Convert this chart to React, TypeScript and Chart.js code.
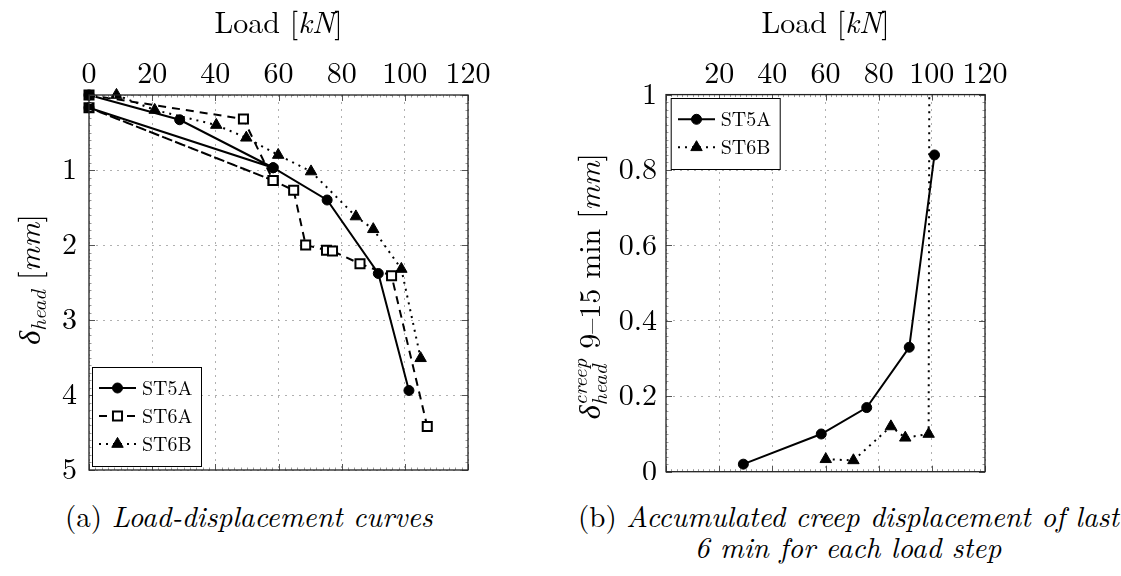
import React, { useEffect, useRef } from "react";
import { Chart, registerables } from "chart.js";

Chart.register(...registerables);

const SERIF = '"Latin Modern Roman", "Liberation Serif", serif';
const TICK_SIZE = 30;
const SUB_SIZE = 21;
const LEGEND_SIZE = 20;

// (a) Load-displacement curves: load [kN] against head displacement [mm]
const st5aLoad = [0, 28.7, 58.3, 0, 58.3, 75.4, 91.6, 101.3];
const st5aDisp = [0, 0.33, 0.97, 0.17, 0.97, 1.4, 2.38, 3.94];
const st6aLoad = [0, 48.9, 58.3, 0, 58.3, 64.8, 68.6, 75.2, 77.1, 85.8, 95.8, 107.1];
const st6aDisp = [0, 0.32, 1.14, 0.17, 1.14, 1.27, 2.0, 2.07, 2.08, 2.25, 2.41, 4.42];
const st6bLoad = [8.7, 20.8, 40.3, 49.8, 59.9, 70.3, 84.5, 90.0, 98.9, 105.0];
const st6bDisp = [0, 0.2, 0.4, 0.57, 0.8, 1.02, 1.62, 1.79, 2.32, 3.51];

// (b) Creep displacement accumulated between 9 and 15 min of each load step
const creepLoad5A = [29.1, 58.4, 75.5, 91.5, 101.0];
const creep5A = [0.02, 0.1, 0.17, 0.33, 0.84];
const creepLoad6B = [60.1, 70.5, 84.6, 90.0, 98.8, 99.3];
const creep6B = [0.033, 0.03, 0.12, 0.09, 0.1, 2.0];

// Axis ranges
const loadRange = { min: 0, max: 120, step: 20 };
const dispRange = { min: 0, max: 5, step: 1 };
const creepRange = { min: 0, max: 1, step: 0.2 };

type MarkStyle = {
  label: string;
  dash: number[];
  point: "circle" | "rect" | "triangle";
  radius: number;
  fill: string;
};

const S5A: MarkStyle = { label: "ST5A", dash: [], point: "circle", radius: 5, fill: "#000" };
const S6A: MarkStyle = { label: "ST6A", dash: [8, 6], point: "rect", radius: 6.4, fill: "#fff" };
const S6B: MarkStyle = { label: "ST6B", dash: [2, 5], point: "triangle", radius: 6.6, fill: "#000" };

const pts = (xs: number[], ys: number[]) => xs.map((x, i) => ({ x, y: ys[i] }));

function dataset(style: MarkStyle, data: { x: number; y: number }[], clip: any = false) {
  return {
    label: style.label,
    data,
    showLine: true,
    borderColor: "#000",
    borderWidth: 2,
    borderDash: style.dash,
    tension: 0,
    pointStyle: style.point,
    pointRadius: style.radius,
    pointBackgroundColor: style.fill,
    pointBorderColor: "#000",
    pointBorderWidth: style.fill === "#fff" ? 2 : 1,
    clip,
  };
}

type Seg = { t: string; italic?: boolean; size?: number; dy?: number; sup?: string; supDy?: number };

const fontOf = (italic: boolean | undefined, size: number) =>
  `${italic ? "italic " : ""}${size}px ${SERIF}`;

function drawRich(ctx: CanvasRenderingContext2D, segs: Seg[], x: number, y: number, base: number) {
  const widths = segs.map((s) => {
    ctx.font = fontOf(s.italic, s.size ?? base);
    let w = ctx.measureText(s.t).width;
    if (s.sup) w = Math.max(w, ctx.measureText(s.sup).width);
    return w;
  });
  const total = widths.reduce((a, b) => a + b, 0);
  let cx = x - total / 2;
  ctx.textAlign = "left";
  ctx.textBaseline = "alphabetic";
  ctx.fillStyle = "#000";
  segs.forEach((s, i) => {
    ctx.font = fontOf(s.italic, s.size ?? base);
    ctx.fillText(s.t, cx, y + (s.dy ?? 0));
    if (s.sup) ctx.fillText(s.sup, cx, y + (s.supDy ?? 0));
    cx += widths[i];
  });
}

function drawMarker(ctx: CanvasRenderingContext2D, st: MarkStyle, x: number, y: number) {
  ctx.save();
  ctx.setLineDash([]);
  ctx.fillStyle = st.fill;
  ctx.strokeStyle = "#000";
  ctx.lineWidth = st.fill === "#fff" ? 2 : 1;
  ctx.beginPath();
  if (st.point === "circle") {
    ctx.arc(x, y, st.radius, 0, Math.PI * 2);
  } else if (st.point === "rect") {
    const h = st.radius * Math.SQRT1_2;
    ctx.rect(x - h, y - h, 2 * h, 2 * h);
  } else {
    const r = st.radius;
    ctx.moveTo(x, y - r);
    ctx.lineTo(x + r * Math.sin((2 * Math.PI) / 3), y - r * Math.cos((2 * Math.PI) / 3));
    ctx.lineTo(x + r * Math.sin((4 * Math.PI) / 3), y - r * Math.cos((4 * Math.PI) / 3));
    ctx.closePath();
  }
  ctx.fill();
  ctx.stroke();
  ctx.restore();
}

type LegendSpec = {
  box: [number, number, number, number];
  rows: number[];
  line: [number, number];
  textX: number;
  entries: MarkStyle[];
};

function drawLegend(ctx: CanvasRenderingContext2D, lg: LegendSpec) {
  const [x, y, w, h] = lg.box;
  ctx.save();
  ctx.fillStyle = "#fff";
  ctx.fillRect(x, y, w, h);
  ctx.strokeStyle = "#000";
  ctx.lineWidth = 1;
  ctx.strokeRect(x + 0.5, y + 0.5, w, h);
  lg.entries.forEach((st, i) => {
    const ry = lg.rows[i];
    ctx.save();
    ctx.strokeStyle = "#000";
    ctx.lineWidth = 2;
    ctx.setLineDash(st.dash);
    ctx.beginPath();
    ctx.moveTo(lg.line[0], ry);
    ctx.lineTo(lg.line[1], ry);
    ctx.stroke();
    ctx.restore();
    drawMarker(ctx, st, (lg.line[0] + lg.line[1]) / 2, ry);
    ctx.fillStyle = "#000";
    ctx.font = fontOf(false, LEGEND_SIZE);
    ctx.textAlign = "left";
    ctx.textBaseline = "alphabetic";
    ctx.fillText(st.label, lg.textX, ry + 7);
  });
  ctx.restore();
}

function drawFrame(chart: any, xStep: number, yStep: number) {
  const { ctx, chartArea: a } = chart;
  const xs = chart.scales.x;
  const ys = chart.scales.y;
  ctx.save();
  ctx.setLineDash([]);
  const minorDiv = 10;
  ctx.strokeStyle = "#9a9a9a";
  ctx.lineWidth = 1;
  ctx.beginPath();
  for (let v = xs.min; v <= xs.max + 1e-9; v += xStep / minorDiv) {
    const p = Math.round(xs.getPixelForValue(v)) + 0.5;
    ctx.moveTo(p, a.top);
    ctx.lineTo(p, a.top + 2.5);
    ctx.moveTo(p, a.bottom);
    ctx.lineTo(p, a.bottom - 2.5);
  }
  for (let v = ys.min; v <= ys.max + 1e-9; v += yStep / minorDiv) {
    const p = Math.round(ys.getPixelForValue(v)) + 0.5;
    ctx.moveTo(a.left, p);
    ctx.lineTo(a.left + 2.5, p);
    ctx.moveTo(a.right, p);
    ctx.lineTo(a.right - 2.5, p);
  }
  ctx.stroke();
  ctx.strokeStyle = "#555";
  ctx.beginPath();
  for (let v = xs.min; v <= xs.max + 1e-9; v += xStep) {
    const p = Math.round(xs.getPixelForValue(v)) + 0.5;
    ctx.moveTo(p, a.top);
    ctx.lineTo(p, a.top + 6);
    ctx.moveTo(p, a.bottom);
    ctx.lineTo(p, a.bottom - 6);
  }
  for (let v = ys.min; v <= ys.max + 1e-9; v += yStep) {
    const p = Math.round(ys.getPixelForValue(v)) + 0.5;
    ctx.moveTo(a.left, p);
    ctx.lineTo(a.left + 6, p);
    ctx.moveTo(a.right, p);
    ctx.lineTo(a.right - 6, p);
  }
  ctx.stroke();
  ctx.strokeStyle = "#222";
  ctx.lineWidth = 1.3;
  ctx.strokeRect(a.left, a.top, a.right - a.left, a.bottom - a.top);
  ctx.restore();
}

type PanelSpec = {
  xStep: number;
  yStep: number;
  xTitle: Seg[];
  yTitle: Seg[];
  yTitleX: number;
  yTitleShift: number;
  legend: LegendSpec;
};

const decorPlugin = {
  id: "decor",
  afterDraw(chart: any, _args: any, opts: PanelSpec) {
    const { ctx, chartArea: a } = chart;
    drawFrame(chart, opts.xStep, opts.yStep);
    drawLegend(ctx, opts.legend);
    ctx.save();
    drawRich(ctx, opts.xTitle, (a.left + a.right) / 2, 33, TICK_SIZE);
    ctx.translate(opts.yTitleX, (a.top + a.bottom) / 2 + opts.yTitleShift);
    ctx.rotate(-Math.PI / 2);
    drawRich(ctx, opts.yTitle, 0, 0, TICK_SIZE);
    ctx.restore();
  },
};

const loadTitle: Seg[] = [{ t: "Load [" }, { t: "kN", italic: true }, { t: "]" }];

const axisFont = () => ({ family: SERIF, size: TICK_SIZE });
const gridOpts = () => ({ color: "#b0b0b0", lineWidth: 1, drawTicks: false });
const fmt = (v: number) => String(Number(v.toFixed(2)));

// Fix the axis boxes so the plot area lands at an exact place in the canvas
const fixY = (w: number) => (s: any) => {
  s.width = w;
  s.paddingTop = 0;
  s.paddingBottom = 0;
};
const fixX = (h: number) => (s: any) => {
  s.height = h;
  s.paddingLeft = 0;
  s.paddingRight = 0;
};

function makeLeftConfig(): any {
  return {
    type: "scatter",
    data: {
      datasets: [
        dataset(S5A, pts(st5aLoad, st5aDisp)),
        dataset(S6A, pts(st6aLoad, st6aDisp)),
        dataset(S6B, pts(st6bLoad, st6bDisp)),
      ],
    },
    options: {
      responsive: false,
      animation: false,
      events: [],
      layout: { padding: { left: 0, top: 0, right: 72, bottom: 10 } },
      scales: {
        x: {
          type: "linear",
          position: "top",
          min: loadRange.min,
          max: loadRange.max,
          ticks: { stepSize: loadRange.step, font: axisFont(), color: "#000", padding: 3, maxRotation: 0, autoSkip: false, callback: fmt },
          grid: gridOpts(),
          border: { display: false, dash: [2, 5] },
          afterFit: fixX(95),
        },
        y: {
          type: "linear",
          reverse: true,
          min: dispRange.min,
          max: dispRange.max,
          ticks: {
            stepSize: dispRange.step,
            font: axisFont(),
            color: "#000",
            padding: 12,
            callback: (v: number) => (v === 0 ? "" : fmt(v)),
          },
          grid: gridOpts(),
          border: { display: false, dash: [2, 5] },
          afterFit: fixY(89),
        },
      },
      plugins: {
        legend: { display: false },
        tooltip: { enabled: false },
        decor: {
          xStep: loadRange.step,
          yStep: dispRange.step,
          xTitle: loadTitle,
          yTitle: [
            { t: "δ", italic: true },
            { t: "head", italic: true, size: SUB_SIZE, dy: 6 },
            { t: " [" },
            { t: "mm", italic: true },
            { t: "]" },
          ],
          yTitleX: 40,
          yTitleShift: -3,
          legend: {
            box: [92, 367, 109, 99],
            rows: [388, 416, 444],
            line: [99, 136],
            textX: 142,
            entries: [S5A, S6A, S6B],
          },
        },
      },
    },
    plugins: [decorPlugin],
  };
}

function makeRightConfig(): any {
  const ox = 540;
  return {
    type: "scatter",
    data: {
      datasets: [
        dataset(S5A, pts(creepLoad5A, creep5A)),
        dataset(S6B, pts(creepLoad6B, creep6B), { left: false, top: 0, right: false, bottom: false }),
      ],
    },
    options: {
      responsive: false,
      animation: false,
      events: [],
      layout: { padding: { left: 0, top: 0, right: 136, bottom: 8.3 } },
      scales: {
        x: {
          type: "linear",
          position: "top",
          min: loadRange.min,
          max: loadRange.max,
          ticks: {
            stepSize: loadRange.step,
            font: axisFont(),
            color: "#000",
            padding: 3,
            maxRotation: 0,
            autoSkip: false,
            callback: (v: number) => (v === 0 ? "" : fmt(v)),
          },
          grid: gridOpts(),
          border: { display: false, dash: [2, 5] },
          afterFit: fixX(94.6),
        },
        y: {
          type: "linear",
          min: creepRange.min,
          max: creepRange.max,
          ticks: { stepSize: creepRange.step, font: axisFont(), color: "#000", padding: 9, callback: fmt },
          grid: gridOpts(),
          border: { display: false, dash: [2, 5] },
          afterFit: fixY(126),
        },
      },
      plugins: {
        legend: { display: false },
        tooltip: { enabled: false },
        decor: {
          xStep: loadRange.step,
          yStep: creepRange.step,
          xTitle: loadTitle,
          yTitle: [
            { t: "δ", italic: true },
            { t: "head", italic: true, size: SUB_SIZE, dy: 7, sup: "creep", supDy: -13 },
            { t: " 9–15 min [" },
            { t: "mm", italic: true },
            { t: "]" },
          ],
          yTitleX: 600 - ox,
          yTitleShift: 3,
          legend: {
            box: [670.7 - ox, 98, 109, 71],
            rows: [119.3, 147.3],
            line: [678 - ox, 715 - ox],
            textX: 720.7 - ox,
            entries: [S5A, S6B],
          },
        },
      },
    },
    plugins: [decorPlugin],
  };
}

function ChartCanvas({ make, left, width, height }: { make: () => any; left: number; width: number; height: number }) {
  const ref = useRef<HTMLCanvasElement | null>(null);
  useEffect(() => {
    if (!ref.current) return;
    const chart = new Chart(ref.current, make());
    return () => chart.destroy();
  }, [make]);
  return (
    <canvas
      ref={ref}
      width={width}
      height={height}
      style={{ position: "absolute", left, top: 0, width, height }}
    />
  );
}

const captionStyle: React.CSSProperties = {
  position: "absolute",
  fontFamily: SERIF,
  fontSize: 29,
  lineHeight: "31px",
  whiteSpace: "nowrap",
  color: "#000",
};

export default function App() {
  return (
    <div
      style={{
        position: "absolute",
        left: 0,
        top: 0,
        width: 1121,
        height: 576,
        overflow: "hidden",
        background: "#fff",
      }}
    >
      <ChartCanvas make={makeLeftConfig} left={0} width={540} height={480} />
      <ChartCanvas make={makeRightConfig} left={540} width={581} height={480} />
      <div style={{ ...captionStyle, left: 65, top: 499 }}>
        (a) <i>Load-displacement curves</i>
      </div>
      <div style={{ ...captionStyle, left: 578, top: 499, width: 540, textAlign: "center" }}>
        (b) <i>Accumulated creep displacement of last</i>
        <br />
        <i>6 min for each load step</i>
      </div>
    </div>
  );
}
